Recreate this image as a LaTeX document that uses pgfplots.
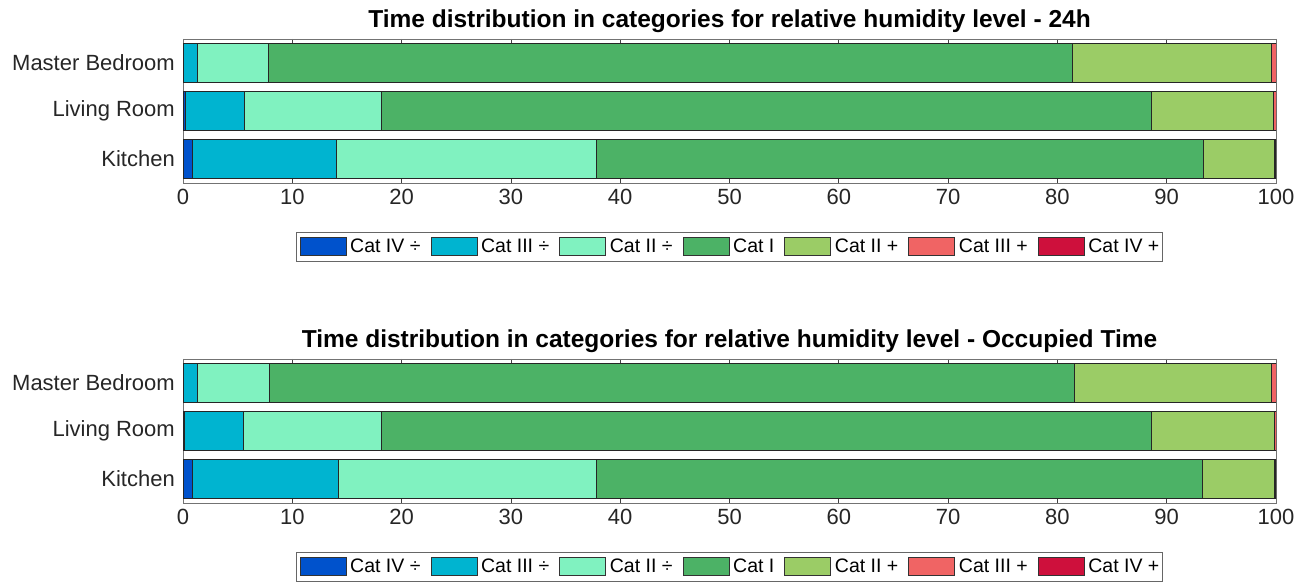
\documentclass[border=0pt]{standalone}
\usepackage{fontspec}
\setmainfont{Liberation Sans}
\usepackage{pgfplots}
\pgfplotsset{compat=1.18}
\definecolor{c4m}{RGB}{0,82,204}
\definecolor{c3m}{RGB}{0,180,208}
\definecolor{c2m}{RGB}{128,242,192}
\definecolor{c1}{RGB}{76,178,102}
\definecolor{c2p}{RGB}{155,204,102}
\definecolor{c3p}{RGB}{240,100,100}
\definecolor{c4p}{RGB}{206,16,60}
\pgfplotsset{mystyle/.style={
  scale only axis, width=1093bp, height=144bp,
  xbar stacked, bar width=0.8,
  xmin=0, xmax=100, ymin=0.5, ymax=3.5,
  ytick={1,2,3}, yticklabels={Kitchen,Living Room,Master Bedroom},
  xtick={0,10,...,100},
  tick align=inside, major tick length=10bp,
  axis line style={black!55, line width=0.8bp},
  tick style={black!75, line width=0.8bp},
  ticklabel style={font=\fontsize{22bp}{26bp}\selectfont, text=black!85},
  yticklabel style={inner sep=0bp, xshift=-8bp},
  xticklabel style={inner sep=0bp, yshift=-6bp},
  /pgf/number format/assume math mode=true,
  title style={at={(0.5,1)}, anchor=base, yshift=6bp, font=\bfseries\fontsize{24.5bp}{28bp}\selectfont},
  legend columns=7,
  legend style={at={(0.5,-0.34)}, anchor=north, draw=black!60, line width=0.8bp,
    font=\fontsize{19.5bp}{23bp}\selectfont, inner xsep=3bp, inner ysep=5bp,
    nodes={inner sep=0bp},
    /tikz/every odd column/.append style={column sep=4bp},
    /tikz/every even column/.append style={column sep=10bp}},
  legend image code/.code={\draw[#1,draw=black!80,line width=0.6bp] (0bp,-9bp) rectangle (46bp,9bp);},
  every axis plot/.append style={draw=black!85, line width=0.6bp},
}}
\begin{document}
\begin{tikzpicture}
\useasboundingbox (0,0) rectangle (1309bp,583bp);
\begin{axis}[mystyle, at={(183bp,400bp)}, anchor=south west,
  title={Time distribution in categories for relative humidity level - 24h}]
\addplot[fill=c4m] coordinates {(0.82,1) (0.2,2) (0,3)};
\addplot[fill=c3m] coordinates {(13.23,1) (5.41,2) (1.28,3)};
\addplot[fill=c2m] coordinates {(23.76,1) (12.56,2) (6.50,3)};
\addplot[fill=c1] coordinates {(55.51,1) (70.39,2) (73.55,3)};
\addplot[fill=c2p] coordinates {(6.53,1) (11.22,2) (18.24,3)};
\addplot[fill=c3p] coordinates {(0.10,1) (0.22,2) (0.43,3)};
\addplot[fill=c4p] coordinates {(0.05,1) (0,2) (0,3)};
\legend{Cat IV ÷,Cat III ÷,Cat II ÷,Cat I,Cat II +,Cat III +,Cat IV +}
\end{axis}
\begin{axis}[mystyle, at={(183bp,80bp)}, anchor=south west,
  title={Time distribution in categories for relative humidity level - Occupied Time}]
\addplot[fill=c4m] coordinates {(0.82,1) (0.15,2) (0,3)};
\addplot[fill=c3m] coordinates {(13.38,1) (5.40,2) (1.34,3)};
\addplot[fill=c2m] coordinates {(23.60,1) (12.62,2) (6.53,3)};
\addplot[fill=c1] coordinates {(55.48,1) (70.43,2) (73.71,3)};
\addplot[fill=c2p] coordinates {(6.57,1) (11.20,2) (17.99,3)};
\addplot[fill=c3p] coordinates {(0.10,1) (0.20,2) (0.43,3)};
\addplot[fill=c4p] coordinates {(0.05,1) (0,2) (0,3)};
\legend{Cat IV ÷,Cat III ÷,Cat II ÷,Cat I,Cat II +,Cat III +,Cat IV +}
\end{axis}
\end{tikzpicture}
\end{document}
